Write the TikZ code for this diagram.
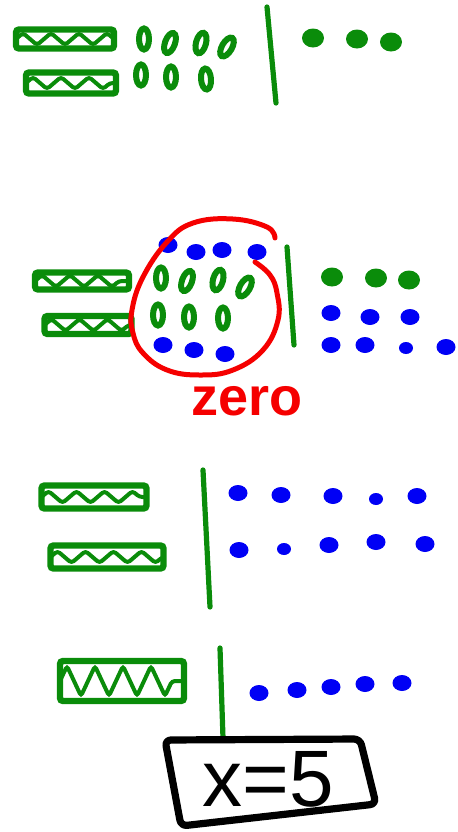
\documentclass[tikz,border=0pt]{standalone}
\usepackage{fontspec}
\setmainfont{Liberation Sans}
\usepackage{xcolor}
\definecolor{inkgreen}{HTML}{0A8C0A}
\definecolor{inkblue}{HTML}{0000F5}
\definecolor{inkred}{HTML}{F50000}
\usepackage{tikz}
\usetikzlibrary{shapes.geometric, decorations.pathmorphing}

\begin{document}
\begin{tikzpicture}[
      %% one unit = one pixel of the sketch, y runs downwards
      x=0.5pt, y=-0.5pt,
      %% x-tiles: thick green bars with a zigzag fill
      tile/.style={rectangle, draw=inkgreen, line width=3.2pt, rounded corners=1.5pt,
                   inner sep=0pt,
                   path picture={\draw[hatch, decoration={amplitude=#1}]
                     (path picture bounding box.west) -- (path picture bounding box.east);}},
      tile/.default=3pt,
      hatch/.style={draw=inkgreen, line width=2pt, decorate,
                    decoration={zigzag, segment length=14pt}},
      %% unit tiles drawn as open ovals
      unit/.style={ellipse, draw=inkgreen, line width=3pt, minimum width=5pt,
                   minimum height=10.5pt, inner sep=0pt},
      %% counters
      gdot/.style={ellipse, fill=inkgreen, minimum width=11pt, minimum height=9.5pt,
                   inner sep=0pt},
      bdot/.style={ellipse, fill=inkblue, minimum width=9.5pt, minimum height=8pt,
                   inner sep=0pt},
      small/.style={minimum width=7pt, minimum height=6pt},
      bar/.style={draw=inkgreen, line width=2.6pt, line cap=round},
      ring/.style={draw=inkred, line width=2.5pt, line cap=round},
      ansbox/.style={draw=black, line width=3.6pt, rounded corners=3pt, line join=round},
    ]
    \useasboundingbox (0,0) rectangle (457,832);

    %% ── Row 1: 2x + 7 | 3 ───────────────────────────────────────────────────
    \node[tile, minimum width=49pt, minimum height=9.5pt]  (tA) at (65,39) {};
    \node[tile, minimum width=45pt, minimum height=10.5pt] (tB) at (71,83) {};
    \foreach \x/\y/\r [count=\i] in {144/39/0, 170/43/-20, 201/43/-15, 227/47/-30,
                                     141/75/0, 171/77/0, 206/79/5}
      \node[unit, rotate=\r] (u1-\i) at (\x,\y) {};
    \draw[bar] (267,7) -- (276,103);
    \foreach \x/\y [count=\i] in {313/38, 357/39, 391/42}
      \node[gdot] (g1-\i) at (\x,\y) {};

    %% ── Row 2: add zero pairs ───────────────────────────────────────────────
    \node[tile, minimum width=47pt, minimum height=8.5pt] (tC) at (82,281) {};
    \node[tile, minimum width=43.5pt, minimum height=9pt] (tD) at (88,325) {};
    \foreach \x/\y/\r [count=\i] in {161/278/0, 187/281/-20, 218/280/-15, 245/287/-30,
                                     158/315/0, 189/317/0, 223/318/0}
      \node[unit, rotate=\r] (u2-\i) at (\x,\y) {};
    \foreach \x/\y [count=\i] in {168/245, 196/252, 222/250, 257/252,
                                  163/345, 194/350, 225/354}
      \node[bdot] (z2-\i) at (\x,\y) {};
    \draw[bar] (287,247) -- (294,345);
    \foreach \x/\y [count=\i] in {332/277, 376/278, 409/280}
      \node[gdot] (g2-\i) at (\x,\y) {};
    \foreach \x/\y [count=\i] in {331/313, 370/317, 410/317, 331/345, 365/345, 446/347}
      \node[bdot] (b2-\i) at (\x,\y) {};
    \node[bdot, small] (b2-7) at (406,348) {};

    %% red ring round the zero pairs
    \draw[ring] plot[smooth, tension=0.7] coordinates {
      (275,238) (267,227) (233,219) (193,223) (167,242) (143,277) (132,310)
      (133,333) (143,353) (167,370) (200,375) (233,370) (263,350) (278,320)
      (277,293) (270,275) (255,262)};
    \node[anchor=base, text=inkred, font=\bfseries\fontsize{27}{27}\selectfont,
          inner sep=0pt] (zero) at (247,415) {zero};

    %% ── Row 3: 2x | 10 ──────────────────────────────────────────────────────
    \node[tile, minimum width=52.5pt, minimum height=11.5pt] (tE) at (94,497) {};
    \node[tile, minimum width=56.5pt, minimum height=11.5pt] (tF) at (107,557) {};
    \draw[bar] (203,470) -- (210,607);
    \foreach \x/\y [count=\i] in {238/493, 281/495, 333/496, 417/496,
                                  239/550, 329/545, 376/542, 425/544}
      \node[bdot] (b3-\i) at (\x,\y) {};
    \node[bdot, small] (b3-9)  at (376,499) {};
    \node[bdot, small] (b3-10) at (284,549) {};

    %% ── Row 4: x | 5 ────────────────────────────────────────────────────────
    \node[tile=7.5pt, minimum width=62pt, minimum height=20pt] (tG) at (122,681) {};
    \foreach \x/\y [count=\i] in {259/693, 297/690, 331/687, 365/684, 402/683}
      \node[bdot] (b4-\i) at (\x,\y) {};
    \draw[bar] (220,648) -- (223,738);

    %% answer box
    \draw[ansbox] (165,740) -- (360,739) -- (376,804) -- (181,826) -- cycle;
    \node[anchor=base, font=\fontsize{40}{40}\selectfont, inner sep=0pt]
      (ans) at (268,806) {x=5};
  \end{tikzpicture}
\end{document}
